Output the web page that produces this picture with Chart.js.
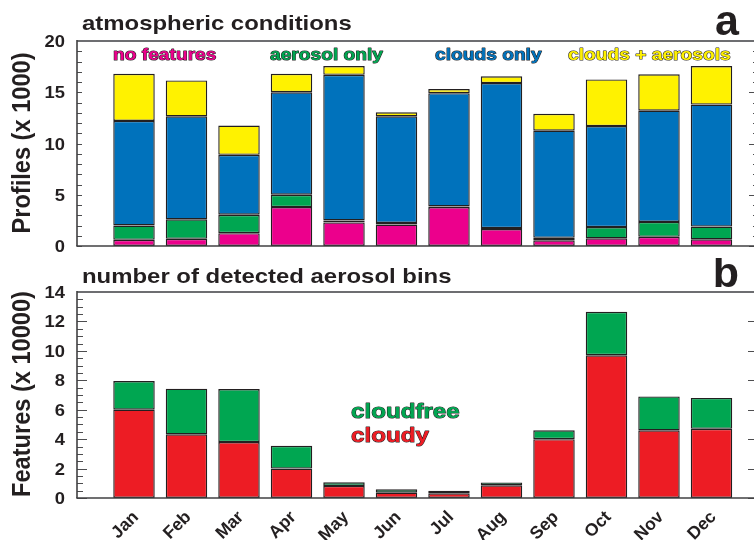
<!DOCTYPE html>
<html>
<head>
<meta charset="utf-8">
<script src="https://cdn.jsdelivr.net/npm/chart.js@4.4.1/dist/chart.umd.min.js"></script>
<style>
  html, body { margin: 0; padding: 0; background: #fff; overflow: hidden; width: 754px; height: 540px; }
  #wrap { position: relative; width: 754px; height: 540px; overflow: hidden; }
  canvas { position: absolute; left: 0; }
  #topChart { top: 0; }
  #bottomChart { top: 258px; }
</style>
</head>
<body>
<div id="wrap">
  <canvas id="topChart" width="760" height="258"></canvas>
  <canvas id="bottomChart" width="760" height="282"></canvas>
</div>
<script>
// Months on the shared x axis
const months = ['Jan', 'Feb', 'Mar', 'Apr', 'May', 'Jun', 'Jul', 'Aug', 'Sep', 'Oct', 'Nov', 'Dec'];

// Panel a: profiles per month (x 1000), stacked by scene type
const noFeatures     = [0.6, 0.7, 1.25, 3.8, 2.3, 2.1, 3.8, 1.65, 0.55, 0.75, 0.9, 0.65];
const aerosolOnly    = [1.4, 1.9, 1.8, 1.2, 0.2, 0.15, 0.06, 0.1, 0.25, 1.1, 1.45, 1.25];
const cloudsOnly     = [10.2, 10.05, 5.85, 10.0, 14.2, 10.4, 11.05, 14.15, 10.45, 9.85, 10.85, 11.9];
const cloudsAerosols = [4.6, 3.5, 2.85, 1.8, 0.85, 0.4, 0.4, 0.65, 1.65, 4.55, 3.55, 3.75];

// Panel b: detected aerosol bins per month (x 10000)
const cloudy    = [6.0, 4.33, 3.8, 2.0, 0.82, 0.36, 0.32, 0.86, 4.0, 9.7, 4.6, 4.7];
const cloudfree = [1.95, 3.1, 3.6, 1.55, 0.25, 0.23, 0.18, 0.2, 0.6, 2.95, 2.3, 2.1];

// Axis tick values
const profileTicks = [0, 5, 10, 15, 20];
const featureTicks = [0, 2, 4, 6, 8, 10, 12, 14];

const INK = '#231F20';
const FONT = '"Liberation Sans", Arial, Helvetica, sans-serif';
const COLORS = {
  magenta: '#EC008C', green: '#00A651', blue: '#0072BC',
  yellow: '#FFF200', red: '#ED1C24'
};

const toPoints = vals => vals.map((v, i) => ({ x: i + 1, y: v }));

function barSet(label, vals, color) {
  return {
    label, data: toPoints(vals), backgroundColor: color,
    borderColor: INK, borderWidth: 1.4, borderSkipped: false,
    barPercentage: 0.79, categoryPercentage: 1
  };
}

// Bold text with optional horizontal stretch, rotation and dark outline
function putText(ctx, txt, x, y, o) {
  ctx.save();
  ctx.translate(x, y);
  if (o.rot) { ctx.rotate(o.rot); ctx.scale(1, o.sx || 1); }
  else ctx.scale(o.sx || 1, 1);
  ctx.font = `bold ${o.size}px ${FONT}`;
  ctx.textAlign = o.align || 'left';
  ctx.textBaseline = o.base || 'alphabetic';
  if (o.stroke) {
    ctx.lineWidth = o.stroke; ctx.strokeStyle = INK; ctx.lineJoin = 'round';
    ctx.strokeText(txt, 0, 0);
  }
  ctx.fillStyle = o.color || INK;
  ctx.fillText(txt, 0, 0);
  ctx.restore();
}

function seg(ctx, x1, y1, x2, y2, color, width) {
  ctx.beginPath();
  ctx.strokeStyle = color;
  ctx.lineWidth = width;
  ctx.moveTo(x1, y1);
  ctx.lineTo(x2, y2);
  ctx.stroke();
}

// Axis frame, inward tick marks on both sides and y tick labels
function framePlugin(cfg) {
  return {
    id: 'axisFrame',
    afterDraw(chart) {
      const ctx = chart.ctx;
      const a = chart.chartArea;
      const y = chart.scales.y;
      const W = chart.width;
      ctx.save();
      for (let v = y.min; v <= y.max + 1e-9; v += cfg.minor) {
        const py = Math.round(y.getPixelForValue(v)) + 0.5;
        const isMajor = Math.abs(v / cfg.major - Math.round(v / cfg.major)) < 1e-6;
        const lLen = isMajor ? cfg.leftMajor : cfg.leftMinor;
        const rLen = isMajor ? cfg.rightMajor : cfg.rightMinor;
        if (lLen) seg(ctx, a.left, py, a.left + lLen, py, '#4d4d4f', 1);
        if (rLen) seg(ctx, a.right, py, a.right - rLen, py, '#4d4d4f', 1);
      }
      seg(ctx, a.left, a.top, W, a.top, '#6d6e71', 1.8);
      seg(ctx, a.right, a.top, a.right, a.bottom, '#58595b', 1.6);
      seg(ctx, a.left, a.top - 0.9, a.left, a.bottom, '#414042', 1.6);
      seg(ctx, a.left - 0.8, a.bottom, W, a.bottom, '#414042', 1.6);
      y.ticks.forEach(t => {
        putText(ctx, String(t.value), a.left - 12, y.getPixelForValue(t.value) + 6, { size: 17, sx: 1.08, align: 'right' });
      });
      ctx.restore();
    }
  };
}

// Panel title, letter, y-axis title and coloured series labels
function textPlugin(cfg) {
  return {
    id: 'panelText',
    afterDraw(chart) {
      const ctx = chart.ctx;
      putText(ctx, cfg.title, 82, cfg.titleY, { size: 20.8, sx: 1.15 });
      putText(ctx, cfg.letter, 739, cfg.letterY, { size: 43, align: 'right' });
      putText(ctx, cfg.yTitle, 23, cfg.yTitleY, { size: 23.6, sx: 1.12, rot: -Math.PI / 2, align: 'center', base: 'middle' });
      chart.data.datasets.forEach((ds, i) => {
        const pos = cfg.labels[i];
        putText(ctx, ds.label, pos[0], pos[1], { size: cfg.labelSize, sx: 1.15, color: ds.backgroundColor, stroke: 1.0 });
      });
    }
  };
}

function makeChart(id, datasets, opts) {
  return new Chart(document.getElementById(id), {
    type: 'bar',
    data: { datasets },
    options: {
      responsive: false,
      animation: false,
      devicePixelRatio: 1,
      layout: { padding: { top: opts.padTop, bottom: opts.padBottom, left: 0, right: 3 } },
      plugins: { legend: { display: false }, tooltip: { enabled: false } },
      scales: {
        x: {
          type: 'linear', offset: false, stacked: true, min: -0.0857, max: 12.867,
          display: opts.showX,
          grid: { display: false, drawTicks: false },
          border: { display: false },
          afterBuildTicks: s => { s.ticks = months.map((_, i) => ({ value: i + 1 })); },
          afterFit: s => { s.height = opts.showX ? 42 : 0; },
          ticks: {
            autoSkip: false, maxRotation: 45, minRotation: 45, padding: 9,
            labelOffset: 2,
            color: INK, font: { family: FONT, weight: 'bold', size: 17.5 },
            callback: v => months[Math.round(v) - 1] || ''
          }
        },
        y: {
          stacked: true, min: 0, max: opts.yMax,
          grid: { display: false, drawTicks: false },
          border: { display: false },
          afterBuildTicks: s => { s.ticks = opts.yTicks.map(v => ({ value: v })); },
          afterFit: s => { s.width = 77; },
          ticks: { display: false }
        }
      }
    },
    plugins: [framePlugin(opts.frame), textPlugin(opts.text)]
  });
}

makeChart('topChart', [
  barSet('no features', noFeatures, COLORS.magenta),
  barSet('aerosol only', aerosolOnly, COLORS.green),
  barSet('clouds only', cloudsOnly, COLORS.blue),
  barSet('clouds + aerosols', cloudsAerosols, COLORS.yellow)
], {
  padTop: 41, padBottom: 12, showX: false, yMax: 20, yTicks: profileTicks,
  frame: { minor: 1, major: 5, leftMajor: 5, leftMinor: 5, rightMajor: 8, rightMinor: 4 },
  text: {
    title: 'atmospheric conditions', titleY: 30, letter: 'a', letterY: 35,
    yTitle: 'Profiles (x 1000)', yTitleY: 143, labelSize: 16.7,
    labels: [[113, 60], [270, 60], [435, 60], [568, 60]]
  }
});

makeChart('bottomChart', [
  barSet('cloudy', cloudy, COLORS.red),
  barSet('cloudfree', cloudfree, COLORS.green)
], {
  padTop: 34, padBottom: 0, showX: true, yMax: 14, yTicks: featureTicks,
  frame: { minor: 0.5, major: 2, leftMajor: 10, leftMinor: 6, rightMajor: 9, rightMinor: 0 },
  text: {
    title: 'number of detected aerosol bins', titleY: 25, letter: 'b', letterY: 29,
    yTitle: 'Features (x 10000)', yTitleY: 136, labelSize: 21,
    labels: [[351, 184], [351, 160]]
  }
});
</script>
</body>
</html>
